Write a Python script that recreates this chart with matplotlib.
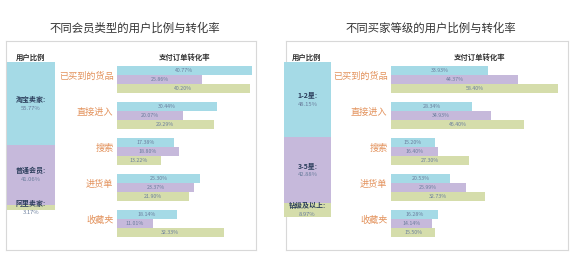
import matplotlib
matplotlib.use('Agg')
import matplotlib.pyplot as plt

plt.rcParams['font.family'] = ['Noto Sans CJK SC', 'DejaVu Sans']

W, H = 575, 260

# ---- data ----
sources = ['已买到的货品', '直接进入', '搜索', '进货单', '收藏夹']

# left panel: member type
left_title = '不同会员类型的用户比例与转化率'
left_groups = ['淘宝卖家', '普通会员', '阿里卖家']
left_share = [55.77, 41.06, 3.17]
left_rate_a = [40.77, 30.44, 17.38, 25.30, 18.14]   # 淘宝卖家
left_rate_b = [25.86, 20.07, 18.80, 23.37, 11.01]   # 普通会员
left_rate_c = [40.20, 29.29, 13.22, 21.90, 32.33]   # 阿里卖家

# right panel: buyer level
right_title = '不同买家等级的用户比例与转化率'
right_groups = ['1-2星', '3-5星', '钻级及以上']
right_share = [48.15, 42.88, 8.97]
right_rate_a = [33.93, 28.34, 15.20, 20.53, 16.28]  # 1-2星
right_rate_b = [44.37, 34.93, 16.40, 25.99, 14.14]  # 3-5星
right_rate_c = [58.40, 46.40, 27.30, 32.73, 15.50]  # 钻级及以上

colors = ['#a5dae6', '#c6b9db', '#d5ddab']
orange = '#e3925c'
navy = '#2c3e5c'
valc = '#6a7d9c'


def px_axes(fig, x0, y0, x1, y1):
    # pixel box (top-left origin) -> axes
    return fig.add_axes([x0 / W, (H - y1) / H, (x1 - x0) / W, (y1 - y0) / H])


def panel(fig, frame, col, bars, title, tx, head_x, groups, share,
          rates, xmax):
    # frame
    fa = px_axes(fig, *frame)
    fa.set_xticks([])
    fa.set_yticks([])
    for s in fa.spines.values():
        s.set_color('#d8d8d8')
        s.set_linewidth(0.8)
    fa.patch.set_alpha(0)
    fig.text(tx / W, 1 - 28 / H, title, ha='center', va='center',
             fontsize=8.2, color='#333333')
    fig.text(head_x[0] / W, 1 - 57 / H, '用户比例', ha='center', va='center',
             fontsize=5.3, weight='bold', color='#333333')
    fig.text(head_x[1] / W, 1 - 57 / H, '支付订单转化率', ha='center',
             va='center', fontsize=5.3, weight='bold', color='#333333')

    # user share column (stacked)
    ca = px_axes(fig, *col)
    bottom = 0
    for g, v, c in zip(groups, share, colors):
        ca.bar(0, v, bottom=bottom, width=1, color=c)
        mid = bottom + v / 2
        ca.annotate(g + ':', (0, mid), xytext=(0, 3), textcoords='offset points',
                    ha='center', va='center', fontsize=5, weight='bold',
                    color=navy, annotation_clip=False)
        ca.annotate('%.2f%%' % v, (0, mid), xytext=(0, -3.5),
                    textcoords='offset points', ha='center', va='center',
                    fontsize=4.2, color=valc, annotation_clip=False)
        bottom += v
    ca.set_ylim(100, 0)
    ca.set_xlim(-0.5, 0.5)
    ca.axis('off')

    # conversion bars
    ba = px_axes(fig, *bars)
    for k, series in enumerate(rates):
        for g, v in enumerate(series):
            y = g * 4 + k
            ba.barh(y, v, height=0.9, color=colors[k],
                    edgecolor='none', clip_on=False)
            ba.text(v / 2, y, '%.2f%%' % v, ha='center', va='center',
                    fontsize=3.8, color=valc)
    for g, name in enumerate(sources):
        ba.annotate(name, (0, g * 4 + 0.7), xytext=(-2.5, 0),
                    textcoords='offset points', ha='right', va='center',
                    fontsize=6.6, color=orange, annotation_clip=False)
    ba.set_xlim(0, xmax)
    ba.set_ylim(18.5, -0.5)
    ba.axis('off')


fig = plt.figure(figsize=(W / 100, H / 100), dpi=100)
fig.patch.set_facecolor('white')

panel(fig, (6, 41, 256, 250), (7, 62, 55, 210), (117, 66, 249, 237),
      left_title, 135, (31, 185), left_groups, left_share,
      [left_rate_a, left_rate_b, left_rate_c], 40)

panel(fig, (286, 41, 568, 250), (284, 62, 331, 217), (391, 66, 563, 237),
      right_title, 431, (307, 480), right_groups, right_share,
      [right_rate_a, right_rate_b, right_rate_c], 60)

fig.savefig('out.png', dpi=100)
